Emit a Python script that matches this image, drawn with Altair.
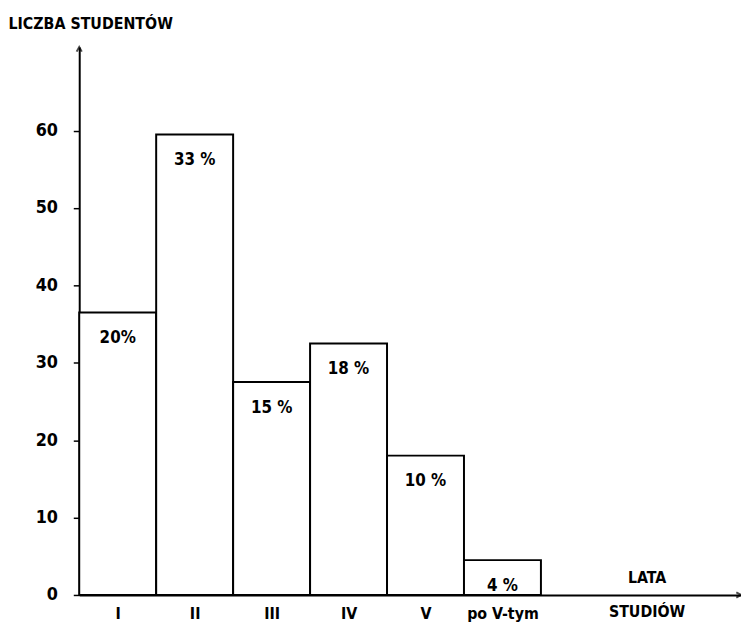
import altair as alt
import pandas as pd

years = ["I", "II", "III", "IV", "V", "po V-tym"]
students = [36.5, 59.5, 27.5, 32.5, 18, 4.5]
shares = ["20%", "33 %", "15 %", "18 %", "10 %", "4 %"]
y_ticks = [0, 10, 20, 30, 40, 50, 60]

X_MAX = 8.6
Y_MAX = 70.8
FONT = "DejaVu Sans Condensed"

df = pd.DataFrame({
    "year": years,
    "students": students,
    "share": shares,
    "x0": list(range(len(years))),
    "x1": [i + 1 for i in range(len(years))],
    "xc": [i + 0.5 for i in range(len(years))],
})

xscale = alt.Scale(domain=[0, X_MAX], nice=False, zero=False)
yscale = alt.Scale(domain=[0, Y_MAX], nice=False)

label_arr = "[" + ",".join("'" + y + "'" for y in years) + "]"

x_axis = alt.Axis(
    values=[i + 0.5 for i in range(len(years))],
    labelExpr=label_arr + "[floor(datum.value)]",
    tickSize=0, labelPadding=11, grid=False, title=None,
    domainColor="black", domainWidth=2,
    labelFont=FONT, labelFontSize=16, labelFontWeight="bold", labelColor="black",
)
y_axis = alt.Axis(
    values=y_ticks, grid=False, tickSize=6, tickColor="black", tickWidth=1.5,
    labelPadding=16, domainColor="black", domainWidth=2,
    labelFont=FONT, labelFontSize=18, labelFontWeight="bold", labelColor="black",
    title="LICZBA STUDENTÓW", titleAngle=0, titleAlign="left", titleBaseline="middle",
    titleX=-72, titleY=-24, titleFont=FONT, titleFontSize=16, titleFontWeight="bold",
    titleColor="black",
)

bars = alt.Chart(df).mark_rect(fill="white", stroke="black", strokeWidth=2).encode(
    x=alt.X("x0:Q", scale=xscale, axis=x_axis),
    x2="x1:Q",
    y=alt.Y("students:Q", scale=yscale, axis=y_axis),
    y2=alt.datum(0),
)

pct = alt.Chart(df).mark_text(
    font=FONT, fontSize=17, fontWeight="bold", color="black", dy=26, baseline="middle"
).encode(
    x=alt.X("xc:Q", scale=xscale),
    y=alt.Y("students:Q", scale=yscale),
    text="share:N",
)

arrows_df = pd.DataFrame({
    "x": [X_MAX, 0],
    "y": [0, Y_MAX],
    "shape": ["M -1 -0.55 L 0 0 L -1 0.55", "M -0.55 1 L 0 0 L 0.55 1"],
})
arrows = alt.Chart(arrows_df).mark_point(
    filled=False, stroke="black", strokeWidth=2, size=90
).encode(
    x=alt.X("x:Q", scale=xscale),
    y=alt.Y("y:Q", scale=yscale),
    shape=alt.Shape("shape:N", scale=None),
)

xt_x = [7.38]
xt1 = alt.Chart(pd.DataFrame({"x": xt_x, "y": [0], "t": ["LATA"]})).mark_text(
    font=FONT, fontSize=16, fontWeight="bold", color="black", dy=-17
).encode(x=alt.X("x:Q", scale=xscale), y=alt.Y("y:Q", scale=yscale), text="t:N")
xt2 = alt.Chart(pd.DataFrame({"x": xt_x, "y": [0], "t": ["STUDIÓW"]})).mark_text(
    font=FONT, fontSize=16, fontWeight="bold", color="black", dy=17
).encode(x=alt.X("x:Q", scale=xscale), y=alt.Y("y:Q", scale=yscale), text="t:N")

chart = alt.layer(bars, pct, arrows, xt1, xt2).properties(
    width=669, height=554,
    padding={"left": 72, "top": 36, "right": 0, "bottom": 27},
    autosize=alt.AutoSizeParams(type="none"),
    background="white",
).configure_view(stroke=None)

chart.save("out.html", embed_options={"renderer": "svg", "actions": False})
